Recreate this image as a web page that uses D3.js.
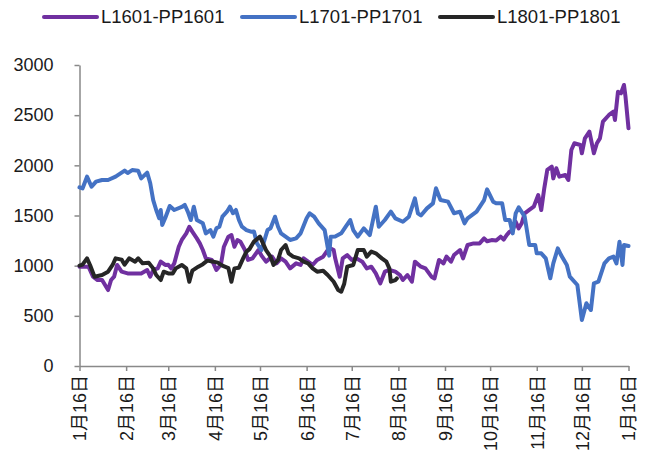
<!DOCTYPE html>
<html>
<head>
<meta charset="utf-8">
<script src="https://cdn.jsdelivr.net/npm/d3@7"></script>
<style>
  html, body { margin: 0; padding: 0; background: #fff; }
  svg { display: block; }
  text { font-family: "Liberation Sans", "Noto Sans CJK SC", sans-serif; fill: #1a1a1a; }
</style>
</head>
<body>
<svg id="chart" width="646" height="468"></svg>
<script>
// ---------- DATA ----------
const seriesNames = ["L1601-PP1601", "L1701-PP1701", "L1801-PP1801"];
const yTicks = [0, 500, 1000, 1500, 2000, 2500, 3000];
const xTickDates = ["2015-01-16","2015-02-16","2015-03-16","2015-04-16","2015-05-16","2015-06-16",
  "2015-07-16","2015-08-16","2015-09-16","2015-10-16","2015-11-16","2015-12-16","2016-01-16"];

const dates1601 = ["2015-01-16","2015-01-18","2015-01-22","2015-01-25","2015-01-28","2015-01-31","2015-02-04","2015-02-06","2015-02-08","2015-02-10","2015-02-13","2015-02-17","2015-02-22","2015-02-26","2015-03-02","2015-03-04","2015-03-06","2015-03-09","2015-03-11","2015-03-14","2015-03-16","2015-03-18","2015-03-20","2015-03-23","2015-03-25","2015-03-28","2015-03-30","2015-04-01","2015-04-04","2015-04-06","2015-04-08","2015-04-10","2015-04-14","2015-04-17","2015-04-20","2015-04-22","2015-04-25","2015-04-27","2015-04-29","2015-05-01","2015-05-03","2015-05-06","2015-05-08","2015-05-11","2015-05-15","2015-05-17","2015-05-20","2015-05-24","2015-05-27","2015-05-30","2015-06-02","2015-06-05","2015-06-09","2015-06-12","2015-06-14","2015-06-17","2015-06-20","2015-06-23","2015-06-27","2015-06-30","2015-07-02","2015-07-04","2015-07-05","2015-07-08","2015-07-10","2015-07-13","2015-07-16","2015-07-19","2015-07-23","2015-07-26","2015-07-29","2015-08-01","2015-08-04","2015-08-07","2015-08-10","2015-08-14","2015-08-17","2015-08-19","2015-08-22","2015-08-25","2015-08-27","2015-08-31","2015-09-03","2015-09-07","2015-09-09","2015-09-12","2015-09-15","2015-09-17","2015-09-20","2015-09-22","2015-09-26","2015-09-28","2015-10-01","2015-10-05","2015-10-09","2015-10-12","2015-10-14","2015-10-17","2015-10-20","2015-10-23","2015-10-25","2015-10-27","2015-10-29","2015-10-31","2015-11-02","2015-11-04","2015-11-06","2015-11-08","2015-11-11","2015-11-14","2015-11-17","2015-11-19","2015-11-21","2015-11-23","2015-11-26","2015-11-27","2015-11-29","2015-12-01","2015-12-05","2015-12-07","2015-12-09","2015-12-11","2015-12-15","2015-12-16","2015-12-18","2015-12-21","2015-12-24","2015-12-26","2015-12-28","2015-12-30","2016-01-03","2016-01-06","2016-01-07","2016-01-09","2016-01-11","2016-01-13","2016-01-14","2016-01-16"];
const values1601 = [990,989,990,890,857,857,757,857,890,1007,940,923,923,923,957,890,957,973,1040,1007,1010,973,1023,1189,1256,1322,1388,1339,1272,1222,1156,1073,1057,957,1010,1189,1289,1305,1189,1255,1239,1156,1057,1073,1156,1100,1040,1090,1023,1073,1040,973,1023,1007,1073,1040,1007,1057,1090,1156,1172,1156,1073,890,1073,1106,1057,1073,1040,973,990,923,824,940,957,940,907,857,907,840,1040,990,973,890,873,1057,1023,1090,1040,1106,1156,1073,1206,1222,1222,1272,1243,1255,1250,1289,1260,1305,1339,1355,1438,1372,1422,1522,1555,1588,1704,1555,1771,1954,1987,1870,1971,1887,1904,1854,2153,2220,2203,2120,2269,2336,2120,2220,2269,2435,2502,2535,2452,2734,2718,2801,2685,2369];

const dates1701 = ["2015-01-16","2015-01-18","2015-01-21","2015-01-24","2015-01-27","2015-01-31","2015-02-04","2015-02-09","2015-02-15","2015-02-17","2015-02-20","2015-02-24","2015-02-26","2015-03-02","2015-03-04","2015-03-06","2015-03-08","2015-03-10","2015-03-11","2015-03-12","2015-03-14","2015-03-17","2015-03-20","2015-03-25","2015-03-27","2015-03-29","2015-03-31","2015-04-02","2015-04-04","2015-04-08","2015-04-10","2015-04-13","2015-04-15","2015-04-17","2015-04-19","2015-04-21","2015-04-24","2015-04-26","2015-04-28","2015-04-30","2015-05-02","2015-05-04","2015-05-07","2015-05-10","2015-05-12","2015-05-14","2015-05-17","2015-05-19","2015-05-21","2015-05-23","2015-05-26","2015-05-28","2015-05-30","2015-06-02","2015-06-05","2015-06-09","2015-06-12","2015-06-16","2015-06-18","2015-06-21","2015-06-24","2015-06-28","2015-07-01","2015-07-02","2015-07-05","2015-07-09","2015-07-12","2015-07-15","2015-07-17","2015-07-20","2015-07-24","2015-07-28","2015-08-01","2015-08-03","2015-08-07","2015-08-11","2015-08-14","2015-08-19","2015-08-23","2015-08-27","2015-08-29","2015-08-31","2015-09-04","2015-09-08","2015-09-10","2015-09-13","2015-09-18","2015-09-22","2015-09-26","2015-09-29","2015-10-01","2015-10-07","2015-10-12","2015-10-14","2015-10-18","2015-10-20","2015-10-24","2015-10-26","2015-10-29","2015-10-31","2015-11-02","2015-11-04","2015-11-08","2015-11-11","2015-11-15","2015-11-16","2015-11-19","2015-11-22","2015-11-25","2015-11-27","2015-11-30","2015-12-02","2015-12-06","2015-12-08","2015-12-13","2015-12-16","2015-12-19","2015-12-22","2015-12-24","2015-12-27","2015-12-31","2016-01-03","2016-01-06","2016-01-08","2016-01-10","2016-01-12","2016-01-13","2016-01-16"];
const values1701 = [1780,1770,1887,1787,1837,1854,1854,1887,1947,1923,1953,1947,1870,1927,1824,1654,1555,1472,1555,1405,1475,1595,1555,1585,1605,1538,1455,1588,1455,1422,1322,1355,1289,1372,1388,1488,1538,1588,1522,1555,1455,1388,1355,1339,1340,1222,1156,1256,1355,1372,1488,1388,1322,1289,1256,1272,1322,1472,1522,1488,1422,1355,1100,1289,1290,1322,1388,1455,1355,1289,1372,1305,1588,1388,1455,1538,1472,1438,1488,1671,1522,1500,1571,1621,1771,1654,1638,1522,1538,1422,1472,1538,1654,1761,1638,1621,1621,1455,1455,1322,1522,1581,1488,1206,1206,1123,1123,1073,874,1023,1172,1110,1007,890,807,458,625,558,824,840,1023,1073,1090,1023,1239,1007,1206,1196];

const dates1801 = ["2015-01-16","2015-01-18","2015-01-21","2015-01-23","2015-01-26","2015-01-31","2015-02-04","2015-02-07","2015-02-09","2015-02-13","2015-02-15","2015-02-18","2015-02-22","2015-02-24","2015-02-27","2015-03-03","2015-03-06","2015-03-08","2015-03-11","2015-03-13","2015-03-16","2015-03-19","2015-03-21","2015-03-25","2015-03-28","2015-03-30","2015-04-01","2015-04-05","2015-04-08","2015-04-11","2015-04-15","2015-04-18","2015-04-21","2015-04-25","2015-04-27","2015-04-29","2015-05-02","2015-05-05","2015-05-07","2015-05-09","2015-05-12","2015-05-16","2015-05-18","2015-05-20","2015-05-23","2015-05-25","2015-05-28","2015-05-30","2015-06-02","2015-06-04","2015-06-07","2015-06-11","2015-06-14","2015-06-17","2015-06-20","2015-06-23","2015-06-27","2015-06-30","2015-07-04","2015-07-07","2015-07-09","2015-07-11","2015-07-13","2015-07-17","2015-07-20","2015-07-24","2015-07-26","2015-07-29","2015-08-01","2015-08-05","2015-08-08","2015-08-10","2015-08-11","2015-08-14","2015-08-15"];
const values1801 = [1000,1010,1073,1007,890,907,940,1007,1073,1060,1010,1073,1040,1073,1023,1030,973,907,857,940,923,923,973,1007,973,840,950,990,1015,1050,1040,1030,1000,975,840,973,980,1080,1140,1165,1240,1289,1222,1156,1090,1007,1057,1156,1206,1123,1090,1073,1040,1023,973,940,950,907,840,757,740,820,990,1007,1156,1156,1090,1140,1123,1073,1040,973,840,857,873];

const seriesColors = ["#7030A0", "#4472C4", "#262626"];

// ---------- CHART ----------
const svg = d3.select("#chart");
const parse = d3.timeParse("%Y-%m-%d");

const x = d3.scaleTime()
  .domain([parse("2015-01-16"), parse("2016-01-16")])
  .range([79.5, 628.5]);
const y = d3.scaleLinear().domain([0, 3000]).range([366, 65]);

const series = [
  { name: seriesNames[0], color: seriesColors[0], pts: dates1601.map((d, i) => ({ d: parse(d), v: values1601[i] })) },
  { name: seriesNames[1], color: seriesColors[1], pts: dates1701.map((d, i) => ({ d: parse(d), v: values1701[i] })) },
  { name: seriesNames[2], color: seriesColors[2], pts: dates1801.map((d, i) => ({ d: parse(d), v: values1801[i] })) }
];

// Y axis
const yAxis = svg.append("g")
  .attr("transform", "translate(79.5,0)")
  .call(d3.axisLeft(y).tickValues(yTicks).tickSize(5).tickSizeOuter(0).tickPadding(21).tickFormat(d3.format("d")));
yAxis.selectAll("text").style("font-size", "18px").attr("fill", "#1a1a1a");

// X axis
const xAxis = svg.append("g")
  .attr("transform", "translate(0,366)")
  .call(d3.axisBottom(x).tickValues(xTickDates.map(parse)).tickSize(5).tickSizeOuter(0)
    .tickFormat(d => (d.getMonth() + 1) + "月16日"));
xAxis.selectAll("text")
  .style("font-size", "18px")
  .attr("fill", "#1a1a1a")
  .attr("y", 0)
  .attr("x", -9)
  .attr("dy", "0.36em")
  .attr("text-anchor", "end")
  .attr("transform", "rotate(-90)");

svg.selectAll(".domain, .tick line").attr("stroke", "#898989").attr("stroke-width", 1.5);

// Lines
const line = d3.line().x(p => x(p.d)).y(p => y(p.v)).curve(d3.curveLinear);
svg.append("g").selectAll("path")
  .data(series)
  .join("path")
  .attr("d", s => line(s.pts))
  .attr("fill", "none")
  .attr("stroke", s => s.color)
  .attr("stroke-width", 4)
  .attr("stroke-linejoin", "round")
  .attr("stroke-linecap", "round");

// Legend
const legendX = [44, 242, 440];
const legend = svg.append("g").selectAll("g")
  .data(series)
  .join("g")
  .attr("transform", (s, i) => `translate(${legendX[i]},17)`);
legend.append("line")
  .attr("x1", 0).attr("x2", 53).attr("y1", 0).attr("y2", 0)
  .attr("stroke", s => s.color).attr("stroke-width", 4).attr("stroke-linecap", "round");
legend.append("text")
  .attr("x", 57).attr("y", 0).attr("dy", "0.35em")
  .style("font-size", "18.5px")
  .text(s => s.name);
</script>
</body>
</html>
